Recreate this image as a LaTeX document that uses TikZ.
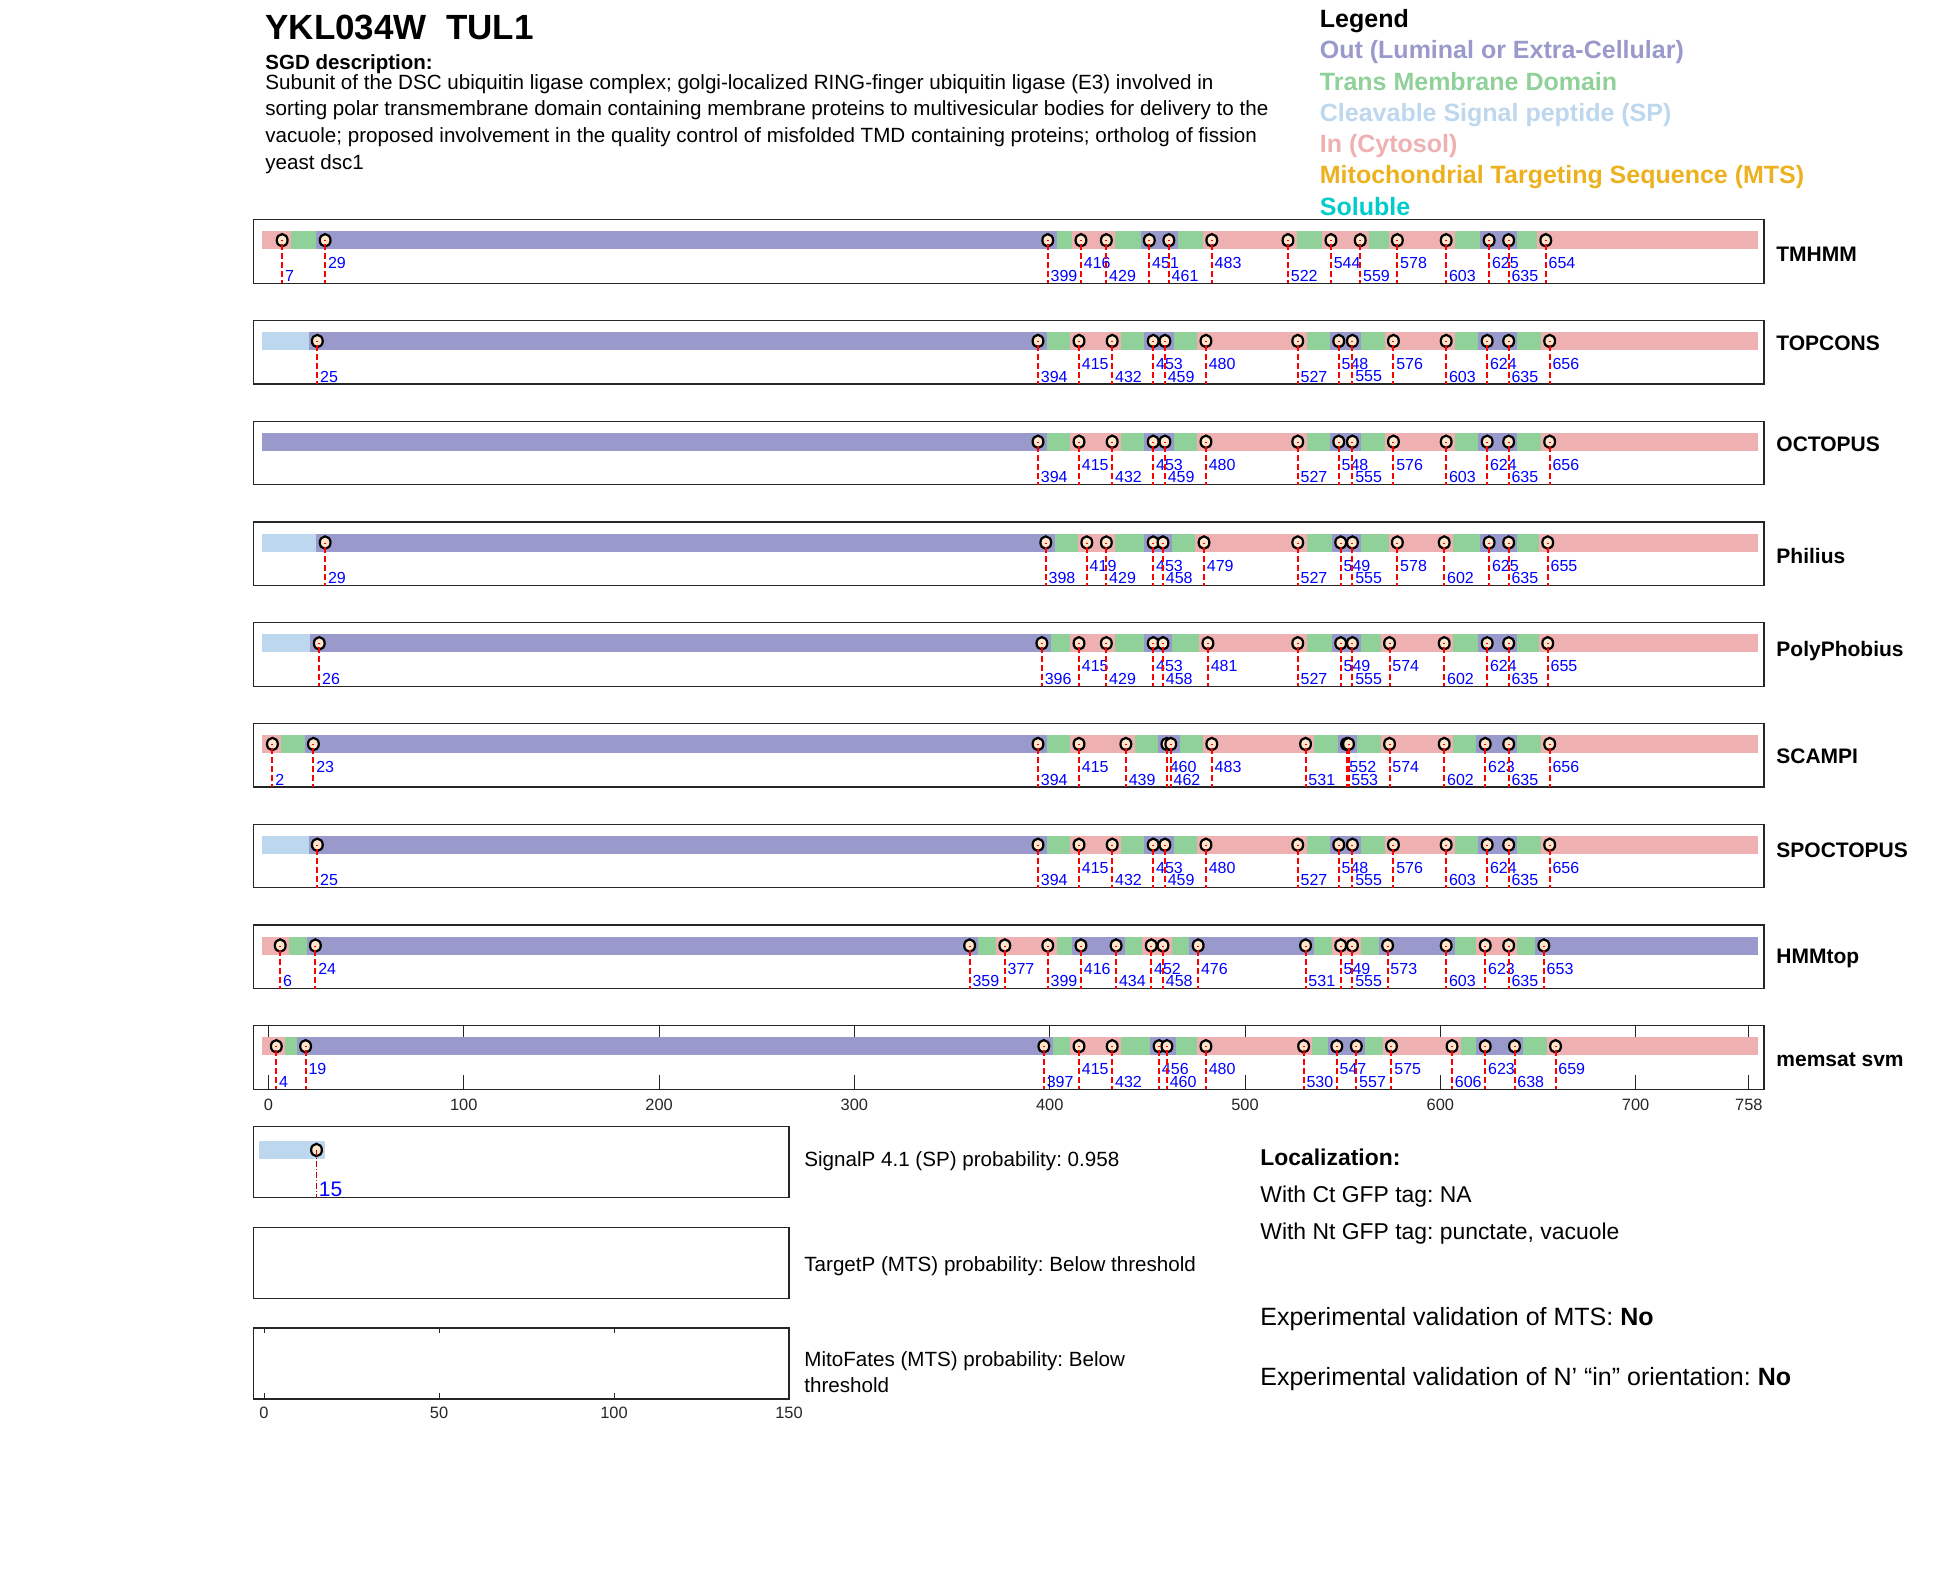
\documentclass[tikz,border=0pt]{standalone}
\usepackage{fontspec}
\setmainfont{Liberation Sans}
\usetikzlibrary{shapes.geometric}

\definecolor{colOut}{RGB}{153,153,204}
\definecolor{colTM}{RGB}{144,209,153}
\definecolor{colSP}{RGB}{189,215,238}
\definecolor{colIn}{RGB}{238,176,176}
\definecolor{colMTS}{RGB}{237,177,32}
\definecolor{colSol}{RGB}{0,204,204}
\definecolor{mkfill}{RGB}{255,229,204}
\definecolor{boxgray}{RGB}{38,38,38}

\tikzset{
  trackbox/.style={draw=boxgray, line width=0.65pt},
  marker/.style={ellipse, draw=black, fill=mkfill, line width=1.1pt, inner sep=0pt,
    minimum width=5.4pt, minimum height=6.2pt},
  cutline/.style={red, line width=1pt, dash pattern=on 3pt off 1.5pt, dash phase=2.5pt},
  sitelbl/.style={anchor=west, inner sep=0pt, text=blue, font=\fontsize{8}{9.6}\selectfont},
  trackname/.style={anchor=base west, inner sep=0pt, font=\fontsize{10.5}{12.6}\selectfont\bfseries},
  ticklbl/.style={inner sep=0pt, text=boxgray, font=\fontsize{8.2}{9.8}\selectfont},
  legitem/.style={anchor=base west, inner sep=0pt, font=\fontsize{12.5}{15}\selectfont\bfseries},
  plain/.style={anchor=base west, inner sep=0pt, font=\fontsize{10.3}{12.4}\selectfont},
  loc/.style={anchor=base west, inner sep=0pt, font=\fontsize{11.45}{13.7}\selectfont},
  expval/.style={anchor=base west, inner sep=0pt, font=\fontsize{12.5}{15}\selectfont},
}

% one prediction track: top, id, name, name baseline, TM segments, other segments, sites
\newcommand{\track}[7]{%
  \draw[trackbox] (253.5,#1) rectangle (1764,{#1+63.5});
  \foreach \a/\b in {#5}
    \fill[colTM] ({268.5+1.953*\a-8.8},{#1+11.5}) rectangle ({268.5+1.953*\b+8.8},{#1+29.5});
  \foreach \cl/\a/\b in {#6}
    \fill[fill=\cl] ({268.5+1.953*\a-8.8},{#1+11.5}) rectangle ({268.5+1.953*\b+8.8},{#1+29.5});
  \foreach \n/\r in {#7}{
    \node[marker] (#2-\n) at ({268.5+1.953*\n},{#1+20.5}) {};
    \coordinate (#2-\n-end) at ({268.5+1.953*\n},{#1+63.5});
    \draw[cutline] (#2-\n.center) -- (#2-\n-end);
    \node[sitelbl] at ({268.5+1.953*\n+2.5},{#1+43.5+12.5*\r}) {\n};
  }
  \node[trackname] (#2) at (1776,{#1+#4}) {#3};
}

\begin{document}
\frenchspacing
\begin{tikzpicture}[x=0.5pt,y=-0.5pt]
    \useasboundingbox (0,0) rectangle (1950,1573);

    %%%%%%%%%% Titolo %%%%%%%%%%
    \node[anchor=west, inner sep=0pt, font=\fontsize{17.5}{21}\selectfont\bfseries] (title) at (265,27) {YKL034W~~TUL1};
    \node[anchor=base west, inner sep=0pt, font=\fontsize{10.25}{12.3}\selectfont\bfseries] (sgd) at (265,70) {SGD description:};
    \node[plain] (desc1) at (265,89.3) {Subunit of the DSC ubiquitin ligase complex; golgi-localized RING-finger ubiquitin ligase (E3) involved in};
    \node[plain] (desc2) at (265,115.8) {sorting polar transmembrane domain containing membrane proteins to multivesicular bodies for delivery to the};
    \node[plain] (desc3) at (265,142.8) {vacuole; proposed involvement in the quality control of misfolded TMD containing proteins; ortholog of fission};
    \node[plain] (desc4) at (265,169.5) {yeast dsc1};

    %%%%%%%%%% Legenda %%%%%%%%%%
    \node[legitem] (leg) at (1319.5,27.5) {Legend};
    \node[legitem, text=colOut] (legout) at (1319.5,58.8) {Out (Luminal or Extra-Cellular)};
    \node[legitem, text=colTM] (legtm) at (1319.5,90.1) {Trans Membrane Domain};
    \node[legitem, text=colSP] (legsp) at (1319.5,121.4) {Cleavable Signal peptide (SP)};
    \node[legitem, text=colIn] (legin) at (1319.5,152.7) {In (Cytosol)};
    \node[legitem, text=colMTS] (legmts) at (1319.5,184.0) {Mitochondrial Targeting Sequence (MTS)};
    \node[legitem, text=colSol] (legsol) at (1319.5,215.3) {Soluble};

    %%%%%%%%%% Tracce %%%%%%%%%%
    \track{219.8}{tmhmm}{TMHMM}{41.5}
      {7/29,399/416,429/451,461/483,522/544,559/578,603/625,635/654}
      {colIn/1/7,colOut/29/399,colIn/416/429,colOut/451/461,colIn/483/522,colIn/544/559,colIn/578/603,colOut/625/635,colIn/654/758}
      {7/1,29/0,399/1,416/0,429/1,451/0,461/1,483/0,522/1,544/0,559/1,578/0,603/1,625/0,635/1,654/0}
    \track{320.55}{topcons}{TOPCONS}{30}
      {394/415,432/453,459/480,527/548,555/576,603/624,635/656}
      {colSP/1/25,colOut/25/394,colIn/415/432,colOut/453/459,colIn/480/527,colOut/548/555,colIn/576/603,colOut/624/635,colIn/656/758}
      {25/1,394/1,415/0,432/1,453/0,459/1,480/0,527/1,548/0,555/1,576/0,603/1,624/0,635/1,656/0}
    \track{421.3}{octopus}{OCTOPUS}{30}
      {394/415,432/453,459/480,527/548,555/576,603/624,635/656}
      {colOut/1/394,colIn/415/432,colOut/453/459,colIn/480/527,colOut/548/555,colIn/576/603,colOut/624/635,colIn/656/758}
      {394/1,415/0,432/1,453/0,459/1,480/0,527/1,548/0,555/1,576/0,603/1,624/0,635/1,656/0}
    \track{522.05}{philius}{Philius}{41}
      {398/419,429/453,458/479,527/549,555/578,602/625,635/655}
      {colSP/1/29,colOut/29/398,colIn/419/429,colOut/453/458,colIn/479/527,colOut/549/555,colIn/578/602,colOut/625/635,colIn/655/758}
      {29/1,398/1,419/0,429/1,453/0,458/1,479/0,527/1,549/0,555/1,578/0,602/1,625/0,635/1,655/0}
    \track{622.8}{polyphobius}{PolyPhobius}{33.5}
      {396/415,429/453,458/481,527/549,555/574,602/624,635/655}
      {colSP/1/26,colOut/26/396,colIn/415/429,colOut/453/458,colIn/481/527,colOut/549/555,colIn/574/602,colOut/624/635,colIn/655/758}
      {26/1,396/1,415/0,429/1,453/0,458/1,481/0,527/1,549/0,555/1,574/0,602/1,624/0,635/1,655/0}
    \track{723.55}{scampi}{SCAMPI}{40}
      {2/23,394/415,439/460,462/483,531/552,553/574,602/623,635/656}
      {colIn/1/2,colOut/23/394,colIn/415/439,colOut/460/462,colIn/483/531,colOut/552/553,colIn/574/602,colOut/623/635,colIn/656/758}
      {2/1,23/0,394/1,415/0,439/1,460/0,462/1,483/0,531/1,552/0,553/1,574/0,602/1,623/0,635/1,656/0}
    \track{824.3}{spoctopus}{SPOCTOPUS}{33.5}
      {394/415,432/453,459/480,527/548,555/576,603/624,635/656}
      {colSP/1/25,colOut/25/394,colIn/415/432,colOut/453/459,colIn/480/527,colOut/548/555,colIn/576/603,colOut/624/635,colIn/656/758}
      {25/1,394/1,415/0,432/1,453/0,459/1,480/0,527/1,548/0,555/1,576/0,603/1,624/0,635/1,656/0}
    \track{925.05}{hmmtop}{HMMtop}{38.5}
      {6/24,359/377,399/416,434/452,458/476,531/549,555/573,603/623,635/653}
      {colIn/1/6,colOut/24/359,colIn/377/399,colOut/416/434,colIn/452/458,colOut/476/531,colIn/549/555,colOut/573/603,colIn/623/635,colOut/653/758}
      {6/1,24/0,359/1,377/0,399/1,416/0,434/1,452/0,458/1,476/0,531/1,549/0,555/1,573/0,603/1,623/0,635/1,653/0}

    %%%%%%%%%% Asse %%%%%%%%%%
    \foreach \t in {0,100,...,700,758}{
      \draw[boxgray, line width=0.5pt] ({268.5+1.953*\t},1025.8) -- ({268.5+1.953*\t},1039.8);
      \draw[boxgray, line width=0.5pt] ({268.5+1.953*\t},1089.3) -- ({268.5+1.953*\t},1075.3);
      \node[ticklbl] (ax\t) at ({268.5+1.953*\t},1105) {\t};
    }
    \track{1025.8}{memsat}{memsat svm}{41}
      {4/19,397/415,432/456,460/480,530/547,557/575,606/623,638/659}
      {colIn/1/4,colOut/19/397,colIn/415/432,colOut/456/460,colIn/480/530,colOut/547/557,colIn/575/606,colOut/623/638,colIn/659/758}
      {4/1,19/0,397/1,415/0,432/1,456/0,460/1,480/0,530/1,547/0,557/1,575/0,606/1,623/0,638/1,659/0}

    %%%%%%%%%% SignalP, TargetP, MitoFates %%%%%%%%%%
    \draw[trackbox] (253.5,1126.5) rectangle (789,1197.5);
    \fill[colSP] (258.7,1141) rectangle (325.3,1159);
    \node[marker] (sp-15) at (316.5,1150) {};
    \coordinate (sp-15-end) at (316.5,1197.5);
    \draw[red!80!black, line width=0.5pt, dash pattern=on 3pt off 1pt on 0.5pt off 1pt] (sp-15.center) -- (sp-15-end);
    \node[sitelbl, font=\fontsize{10.5}{12.6}\selectfont] (sp-lbl) at (318.5,1189) {15};

    \draw[trackbox] (253.5,1227.2) rectangle (789,1298.2);

    \foreach \t in {0,50,100,150}{
      \draw[boxgray, line width=0.5pt] ({264+3.5*\t},1327.9) -- ({264+3.5*\t},1333.4);
      \draw[boxgray, line width=0.5pt] ({264+3.5*\t},1398.9) -- ({264+3.5*\t},1393.4);
      \node[ticklbl] (mx\t) at ({264+3.5*\t},1413) {\t};
    }
    \draw[trackbox] (253.5,1327.9) rectangle (789,1398.9);

    \node[plain] (signalp) at (804,1166.7) {SignalP 4.1 (SP) probability: 0.958};
    \node[plain] (targetp) at (804,1271.7) {TargetP (MTS) probability: Below threshold};
    \node[plain] (mitofates) at (804,1366.7) {MitoFates (MTS) probability: Below};
    \node[plain] (mitofates2) at (804,1392.7) {threshold};

    %%%%%%%%%% Localizzazione %%%%%%%%%%
    \node[loc, font=\fontsize{11.45}{13.7}\selectfont\bfseries] (locz) at (1260,1165.5) {Localization:};
    \node[loc] (ctgfp) at (1260,1202) {With Ct GFP tag: NA};
    \node[loc] (ntgfp) at (1260,1239) {With Nt GFP tag: punctate, vacuole};
    \node[expval] (expmts) at (1260,1325.5) {Experimental validation of MTS: \textbf{No}};
    \node[expval] (expn) at (1260,1385.5) {Experimental validation of N’ “in” orientation: \textbf{No}};
\end{tikzpicture}
\end{document}
